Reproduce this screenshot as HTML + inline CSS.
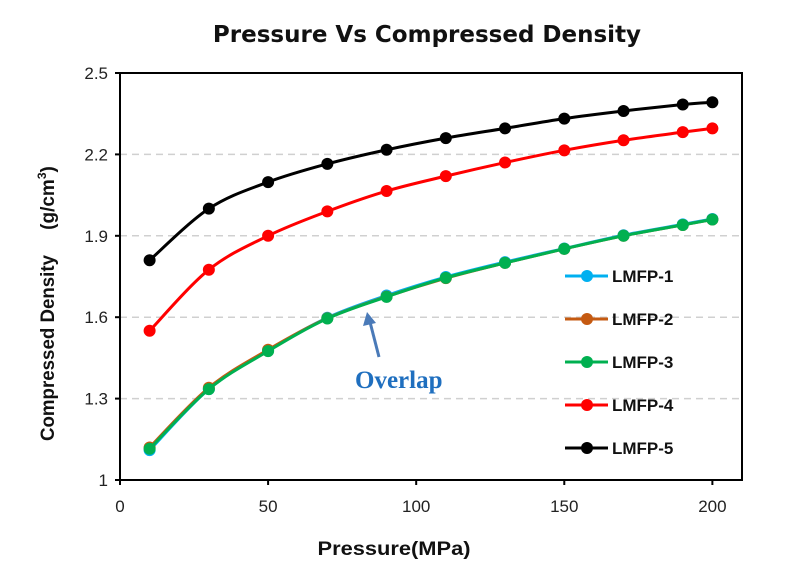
<!DOCTYPE html>
<html><head><meta charset="utf-8"><style>
body{margin:0;background:#fff;font-family:"Liberation Sans",sans-serif}
svg{display:block}
</style></head><body>
<svg id="chart" width="795" height="574">
<text x="427" y="42" text-anchor="middle" font-family="DejaVu Sans, Liberation Sans, sans-serif" font-weight="bold" font-size="23" fill="#111">Pressure Vs Compressed Density</text>
<g id="grid"></g>
<rect x="120" y="73" width="622" height="407" fill="none" stroke="#000" stroke-width="2"/>
<g id="ticks"></g>
<g id="series"></g>
<g id="legend"></g>
<text transform="translate(54,348) rotate(-90)" text-anchor="middle" font-weight="bold" font-size="19" fill="#111" textLength="186" lengthAdjust="spacingAndGlyphs">Compressed Density</text>
<text transform="translate(54,198) rotate(-90)" text-anchor="middle" font-weight="bold" font-size="19" fill="#111">(g/cm<tspan dy="-8" font-size="12">3</tspan><tspan dy="8">)</tspan></text>
<text x="394" y="555" text-anchor="middle" font-weight="bold" font-size="19" fill="#111" textLength="153" lengthAdjust="spacingAndGlyphs">Pressure(MPa)</text>
<line x1="379" y1="357" x2="370" y2="322" stroke="#4a7ab8" stroke-width="3"/>
<polygon points="367,312 363,326 376,323" fill="#4a7ab8"/>
<text x="355" y="388" font-family="Liberation Serif, serif" font-weight="bold" font-size="25" fill="#1f6fbf">Overlap</text>
</svg>
<script>
const pressures=[10,30,50,70,90,110,130,150,170,190,200];
const lmfp1=[1.11,1.335,1.478,1.598,1.68,1.748,1.803,1.853,1.902,1.942,1.962];
const lmfp2=[1.12,1.34,1.48,1.596,1.676,1.744,1.80,1.852,1.90,1.94,1.96];
const lmfp3=[1.115,1.335,1.475,1.595,1.675,1.745,1.80,1.852,1.90,1.94,1.96];
const lmfp4=[1.55,1.775,1.90,1.99,2.065,2.12,2.17,2.215,2.252,2.282,2.296];
const lmfp5=[1.81,2.00,2.098,2.165,2.217,2.26,2.296,2.332,2.36,2.384,2.392];
const seriesNames=["LMFP-1","LMFP-2","LMFP-3","LMFP-4","LMFP-5"];
const seriesColors=["#00b0f0","#c55a11","#00b050","#ff0000","#000000"];
const xTicks=[0,50,100,150,200];
const yTicks=[1,1.3,1.6,1.9,2.2,2.5];
const yTickLabels=["1","1.3","1.6","1.9","2.2","2.5"];

const NS="http://www.w3.org/2000/svg";
const X0=120,X1=742,Y0=480,Y1=73,XMAX=210,YMIN=1,YMAX=2.5;
const xs=v=>X0+(v/XMAX)*(X1-X0);
const ys=v=>Y0-(v-YMIN)/(YMAX-YMIN)*(Y0-Y1);
function mk(tag,attrs,parent){const e=document.createElementNS(NS,tag);for(const k in attrs)e.setAttribute(k,attrs[k]);parent.appendChild(e);return e;}
const grid=document.getElementById('grid'),ticks=document.getElementById('ticks'),ser=document.getElementById('series'),leg=document.getElementById('legend');
yTicks.forEach((t,i)=>{
  const y=ys(t);
  if(i>0&&i<yTicks.length-1){const g=mk('line',{x1:X0,x2:X1,y1:y,y2:y,stroke:'#d0d0d0','stroke-width':1.5,'stroke-dasharray':'7,5'},grid);
  
  }
  const tk=mk('line',{x1:X0-5,x2:X0,y1:y,y2:y,stroke:'#000','stroke-width':2},ticks);
  
  
  const tx=mk('text',{x:X0-12,y:y+6,'text-anchor':'end','font-size':17,fill:'#222'},ticks);
  tx.textContent=yTickLabels[i];
  
  
});
xTicks.forEach(t=>{
  const x=xs(t);
  const tk=mk('line',{x1:x,x2:x,y1:Y0,y2:Y0+5,stroke:'#000','stroke-width':2},ticks);
  
  
  const tx=mk('text',{x:x,y:Y0+32,'text-anchor':'middle','font-size':17,fill:'#222'},ticks);
  tx.textContent=String(t);
  
  
});
function smooth(pts){
  let d=`M${pts[0][0]},${pts[0][1]}`;
  for(let i=0;i<pts.length-1;i++){
    const p0=pts[i-1]||pts[i],p1=pts[i],p2=pts[i+1],p3=pts[i+2]||p2;
    const c1=[p1[0]+(p2[0]-p0[0])/6,p1[1]+(p2[1]-p0[1])/6];
    const c2=[p2[0]-(p3[0]-p1[0])/6,p2[1]-(p3[1]-p1[1])/6];
    d+=` C${c1[0]},${c1[1]} ${c2[0]},${c2[1]} ${p2[0]},${p2[1]}`;
  }
  return d;
}
const allData=[lmfp1,lmfp2,lmfp3,lmfp4,lmfp5];
allData.forEach((vals,si)=>{
  const g=mk('g',{},ser);
  
  
  const pts=vals.map((v,i)=>[xs(pressures[i]),ys(v)]);
  const p=mk('path',{d:smooth(pts),fill:'none',stroke:seriesColors[si],'stroke-width':3},g);
  
  
  pts.forEach(pt=>{
    const c=mk('circle',{cx:pt[0],cy:pt[1],r:6,fill:seriesColors[si]},g);
    
    
  });
});
seriesNames.forEach((n,i)=>{
  const y=276+i*43;
  const g=mk('g',{},leg);
  
  
  mk('line',{x1:565,x2:608,y1:y,y2:y,stroke:seriesColors[i],'stroke-width':3},g);
  mk('circle',{cx:587,cy:y,r:6,fill:seriesColors[i]},g);
  const t=mk('text',{x:612,y:y+6,'font-size':17,'font-weight':'bold',fill:'#111'},g);
  t.textContent=n;
});
</script>
</body></html>
